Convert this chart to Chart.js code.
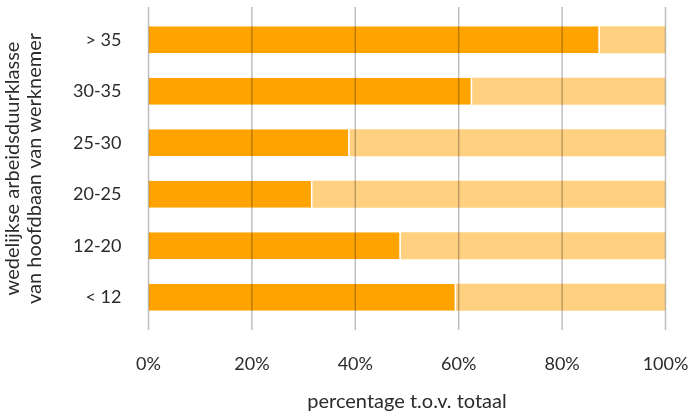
<!DOCTYPE html>
<html>
<head>
<meta charset="utf-8">
<script src="https://cdn.jsdelivr.net/npm/chart.js@4"></script>
<style>
  html, body { margin: 0; padding: 0; background: #fff; }
  #wrap { width: 691px; height: 416px; }
</style>
</head>
<body>
<div id="wrap"><canvas id="chart"></canvas></div>
<script>
const categories = ['> 35', '30-35', '25-30', '20-25', '12-20', '< 12'];
const shareMain = [87.3, 62.6, 38.9, 31.7, 48.8, 59.5];
const shareRest = [12.7, 37.4, 61.1, 68.3, 51.2, 40.5];
const xTicks = [0, 20, 40, 60, 80, 100];

const tickFont = { family: 'Lato', size: 18 };
const titleFont = { family: 'Lato', size: 20, lineHeight: 1.1 };

// grid lines drawn on top of the bars, a bit longer than the plot area
const gridOnTop = {
    id: 'gridOnTop',
    afterDatasetsDraw(chart) {
        const ctx = chart.ctx;
        const area = chart.chartArea;
        const x = chart.scales.x;
        ctx.save();
        ctx.strokeStyle = 'rgba(0,0,0,0.26)';
        ctx.lineWidth = 1.5;
        xTicks.forEach(v => {
            const px = x.getPixelForValue(v);
            ctx.beginPath();
            ctx.moveTo(px, area.top - 7);
            ctx.lineTo(px, area.bottom + 7);
            ctx.stroke();
        });
        ctx.restore();
    }
};

new Chart(document.getElementById('chart'), {
    type: 'bar',
    data: {
        labels: categories,
        datasets: [{
            data: shareMain,
            backgroundColor: '#ffa300',
            borderColor: '#ffffff',
            borderWidth: { top: 0, bottom: 0, left: 0, right: 1.5 },
            borderSkipped: false
        }, {
            data: shareRest,
            backgroundColor: '#ffd080',
            borderWidth: 0
        }]
    },
    options: {
        indexAxis: 'y',
        responsive: true,
        maintainAspectRatio: false,
        animation: false,
        layout: { padding: { top: 14, right: 25.5, left: 0, bottom: 0 } },
        datasets: { bar: { barPercentage: 0.52, categoryPercentage: 1 } },
        plugins: {
            legend: { display: false },
            tooltip: { enabled: false }
        },
        scales: {
            x: {
                stacked: true,
                min: 0,
                max: 100,
                border: { display: false },
                grid: { display: false },
                afterBuildTicks: s => { s.ticks = xTicks.map(v => ({ value: v })); },
                afterFit: s => {
                    s.height = 93;
                    s.paddingLeft = 0;
                    s.paddingRight = 0;
                },
                ticks: {
                    padding: 22,
                    color: '#2b2b2b',
                    font: tickFont,
                    callback: v => v + '%'
                },
                title: {
                    display: true,
                    text: 'percentage t.o.v. totaal',
                    color: '#2b2b2b',
                    font: titleFont,
                    padding: { top: 6, bottom: 3 }
                }
            },
            y: {
                stacked: true,
                border: { display: false },
                grid: { display: false },
                afterFit: s => {
                    s.width = 148.5;
                    s.paddingTop = 0;
                    s.paddingBottom = 0;
                },
                ticks: {
                    padding: 19,
                    color: '#2b2b2b',
                    font: tickFont
                },
                title: {
                    display: true,
                    text: ['wedelijkse arbeidsduurklasse', 'van hoofdbaan van werknemer'],
                    color: '#2b2b2b',
                    font: titleFont,
                    padding: { top: 2, bottom: 0 }
                }
            }
        }
    },
    plugins: [gridOnTop]
});
</script>
</body>
</html>
